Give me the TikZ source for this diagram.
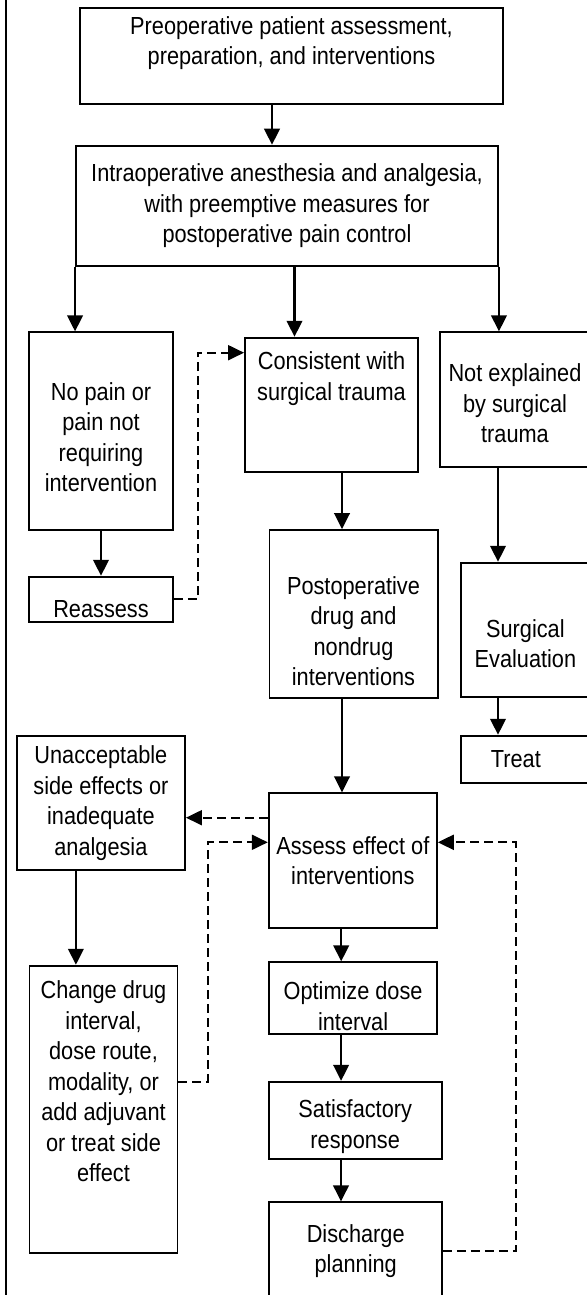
\documentclass[tikz,border=0pt]{standalone}
\usepackage{fontspec}
\usepackage{tikz}
\usetikzlibrary{arrows.meta}
\newfontfamily\flowfont{Liberation Sans}[FakeStretch=0.88]
\newcommand{\sink}[1]{\rule{0pt}{#1}}
\newcommand{\lift}[1]{\rule[-#1]{0pt}{0pt}}
\tikzset{
  box/.style={draw, line width=1.9pt, inner sep=0pt, align=center,
    font=\flowfont\fontsize{24.7}{30.5}\selectfont},
  arr/.style={-{Triangle[length=16pt,width=15.5pt]}, line width=2.4pt},
  darr/.style={-{Triangle[length=16pt,width=15pt]}, line width=2pt, dash pattern=on 9pt off 5pt}
}

\begin{document}
\begin{tikzpicture}[x=1pt,y=1pt]
        \useasboundingbox (0,0) rectangle (586,-1295);
        \draw[line width=1.9pt] (5.6,0) -- (5.6,-1295);

        % Boxes
        \node[box, minimum width=423pt, minimum height=95.7pt] (pre) at (291.5,-56.2)
          {Preoperative patient assessment,\\ preparation, and interventions\lift{31pt}};
        \node[box, minimum width=422pt, minimum height=120pt] (intra) at (287,-205.7)
          {Intraoperative anesthesia and analgesia,\\ with preemptive measures for\\ postoperative pain control};
        \node[box, minimum width=144pt, minimum height=197.7pt] (nopain) at (101,-431.2)
          {\sink{30pt}No pain or\\ pain not\\ requiring\\ intervention};
        \node[box, minimum width=173pt, minimum height=134pt] (consistent) at (331.5,-404.7)
          {Consistent with\\ surgical trauma\lift{57pt}};
        \node[box, minimum width=150pt, minimum height=134.4pt] (notexpl) at (515,-399.5)
          {\sink{26pt}Not explained\\ by surgical\\ trauma};
        \node[box, minimum width=144pt, minimum height=45pt] (reassess) at (101,-599.2)
          {\sink{36pt}Reassess};
        \node[box, minimum width=168.1pt, minimum height=168.3pt] (postop) at (353.5,-614.2)
          {\sink{52pt}Postoperative\\ drug and\\ nondrug\\ interventions};
        \node[box, minimum width=129.2pt, minimum height=134pt] (surgeval) at (525.4,-629.7)
          {\sink{46pt}Surgical\\ Evaluation};
        \node[box, minimum width=129.2pt, minimum height=47.6pt] (treat) at (525.4,-759.5)
          {Treat\hspace*{19pt}};
        \node[box, minimum width=168.2pt, minimum height=134.3pt] (unaccept) at (100.9,-802.9)
          {Unacceptable\\ side effects or\\ inadequate\\ analgesia};
        \node[box, minimum width=168.1pt, minimum height=135pt] (assess) at (352.8,-860.8)
          {Assess effect of\\ interventions};
        \node[box, minimum width=148pt, minimum height=287.6pt] (change) at (103.5,-1109.5)
          {Change drug\\ interval,\\ dose route,\\ modality, or\\ add adjuvant\\ or treat side\\ effect\lift{56pt}};
        \node[box, minimum width=167.4pt, minimum height=72pt] (optimize) at (353.1,-998.3)
          {\sink{34pt}Optimize dose\\ interval};
        \node[box, minimum width=173pt, minimum height=77.3pt] (satisf) at (355.2,-1120.4)
          {\sink{30pt}Satisfactory\\ response};
        \node[box, minimum width=172.6pt, minimum height=97.7pt] (discharge) at (355.7,-1251.2)
          {Discharge\\ planning};

        % Solid arrows
        \draw[arr] ([xshift=-19.5pt]pre.south) -- ([xshift=-19.5pt]pre.south |- intra.north);
        \draw[arr] (intra.south west) -- (intra.south west |- nopain.north);
        \draw[arr] ([xshift=7.5pt]intra.south) -- ([xshift=7.5pt]intra.south |- consistent.north);
        \draw[arr] (intra.south east) -- (intra.south east |- notexpl.north);
        \draw[arr] (nopain.south) -- (reassess.north);
        \draw[arr] ([xshift=10.5pt]consistent.south) -- ([xshift=10.5pt]consistent.south |- postop.north);
        \draw[arr] ([xshift=-17pt]notexpl.south) -- ([xshift=-17pt]notexpl.south |- surgeval.north);
        \draw[arr] ([xshift=-27.4pt]surgeval.south) -- ([xshift=-27.4pt]surgeval.south |- treat.north);
        \draw[arr] ([xshift=-11.5pt]postop.south) -- ([xshift=-11.5pt]postop.south |- assess.north);
        \draw[arr] ([xshift=-25pt]unaccept.south) -- ([xshift=-25pt]unaccept.south |- change.north);
        \draw[arr] ([xshift=-11.6pt]assess.south) -- ([xshift=-11.6pt]assess.south |- optimize.north);
        \draw[arr] ([xshift=-12pt]optimize.south) -- ([xshift=-12pt]optimize.south |- satisf.north);
        \draw[arr] ([xshift=-14.2pt]satisf.south) -- ([xshift=-14.2pt]satisf.south |- discharge.north);

        % Dashed feedback
        \draw[darr] (reassess.east) -- ++(24,0) |- ([yshift=52pt]consistent.west);
        \draw[darr] ([yshift=43.1pt]assess.west) -- ([yshift=43.1pt]assess.west -| unaccept.east);
        \draw[darr] ([yshift=27.8pt]change.east) -- ++(29.1,0) |- ([yshift=18.5pt]assess.west);
        \draw[darr] (discharge.east) -- ++(72.6,0) |- ([yshift=18.5pt]assess.east);
\end{tikzpicture}
\end{document}
